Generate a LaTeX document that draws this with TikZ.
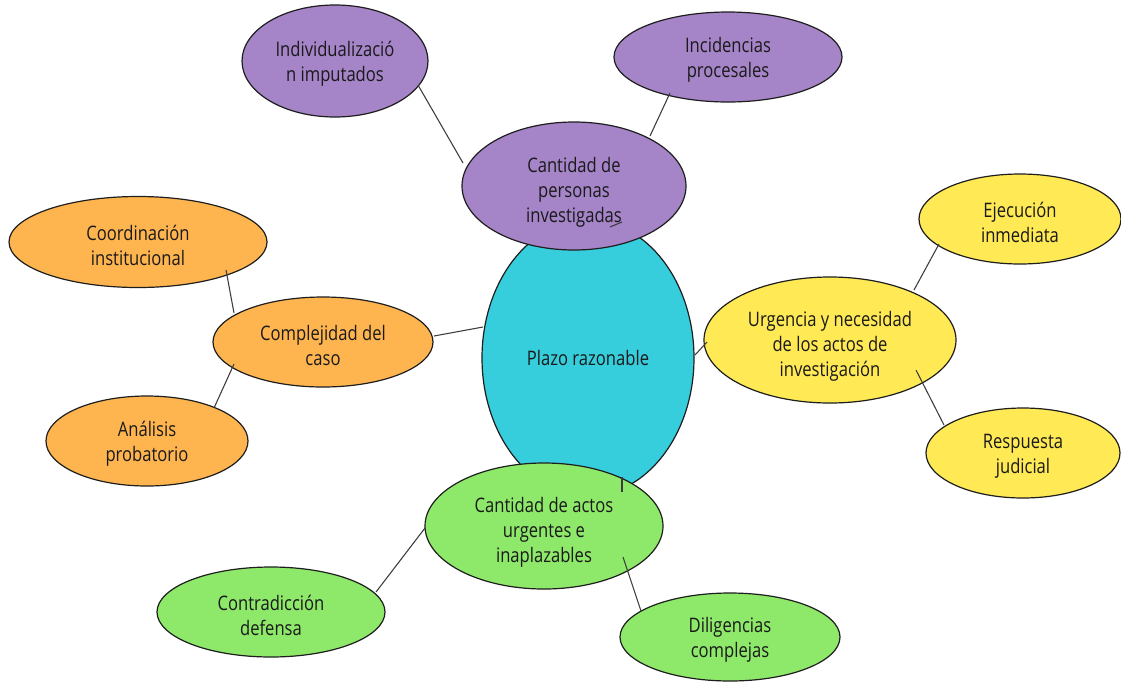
\documentclass[tikz,border=0pt]{standalone}
\usepackage{fontspec}
\setmainfont[FakeStretch=0.83]{Open Sans}
\usetikzlibrary{shapes.geometric}
\definecolor{cCyan}{HTML}{36CEDC}
\definecolor{cPurple}{HTML}{A584C8}
\definecolor{cOrange}{HTML}{FFB54F}
\definecolor{cYellow}{HTML}{FFE955}
\definecolor{cGreen}{HTML}{8EE86A}
\definecolor{lineC}{HTML}{1E1E1E}
\definecolor{linkC}{HTML}{3C3C3C}
\definecolor{txtC}{HTML}{1A1A1A}
\newcommand{\myupA}{\rule{0pt}{16pt}}
\newcommand{\myupB}{\rule{0pt}{20.5pt}}
\begin{document}
\begin{tikzpicture}[x=0.75pt,y=-0.75pt,
  bub/.style n args={3}{ellipse, draw=lineC, line width=0.9pt, fill=#1,
    minimum width=#2*0.75pt, minimum height=#3*0.75pt, inner sep=0pt,
    align=center, font=\fontsize{15}{18.75}\selectfont, text=txtC},
  link/.style={draw=linkC, line width=0.8pt}]
\useasboundingbox[fill=white] (0,0) rectangle (1121,683);

% central
\node[bub={cCyan}{212}{276}] (C) at (588,358) {Plazo razonable};
% purple group
\node[bub={cPurple}{224}{128}] (P) at (574,186) {\myupB Cantidad de\\personas\\investigadas};
\node[bub={cPurple}{186}{112}] (I1) at (335,61) {\myupA Individualizació\\n imputados};
\node[bub={cPurple}{228}{90}] (I2) at (728,57) {\myupA Incidencias\\procesales};
% orange group
\node[bub={cOrange}{220}{90}] (K) at (323,342) {\myupA Complejidad del\\caso};
\node[bub={cOrange}{258}{91}] (K1) at (138,242) {\myupA Coordinación\\institucional};
\node[bub={cOrange}{202}{90}] (K2) at (147,441) {\myupA Análisis\\probatorio};
% yellow group
\node[bub={cYellow}{252}{126}] (U) at (830,340) {\myupB Urgencia y necesidad\\de los actos de\\investigación};
\node[bub={cYellow}{202}{90}] (U1) at (1020,219) {\myupA Ejecución\\inmediata};
\node[bub={cYellow}{194}{90}] (U2) at (1023,453) {\myupA Respuesta\\judicial};
% green group
\node[bub={cGreen}{238}{126}] (G) at (544,526) {\myupB Cantidad de actos\\urgentes e\\inaplazables};
\node[bub={cGreen}{228}{90}] (G1) at (271,612) {\myupA Contradicción\\defensa};
\node[bub={cGreen}{220}{88}] (G2) at (730,637) {\myupA Diligencias\\complejas};

% connectors
\draw[link] ([shift={(83,24)}]I1.center) -- ([shift={(-111,-23)}]P.center);
\draw[link] ([shift={(-58,36)}]I2.center) -- ([shift={(76,-50)}]P.center);
\draw[link] ([shift={(88,28)}]K1.center) -- ([shift={(-89,-29)}]K.center);
\draw[link] ([shift={(67,-33)}]K2.center) -- ([shift={(-89,22)}]K.center);
\draw[link] ([shift={(111,-6)}]K.center) -- ([shift={(-105,-31)}]C.center);
\draw[link] ([shift={(-123,2)}]U.center) -- ([shift={(107,-3)}]C.center);
\draw[link] ([shift={(-81,25)}]U1.center) -- ([shift={(84,-50)}]U.center);
\draw[link] ([shift={(86,30)}]U.center) -- ([shift={(-79,-28)}]U2.center);
\draw[link] ([shift={(-119,2)}]G.center) -- ([shift={(105,-20)}]G1.center);
\draw[link] ([shift={(79,31)}]G.center) -- ([shift={(-89,-26)}]G2.center);
% short visible stubs
\coordinate (s1a) at ([shift={(36,41)}]P.center);
\coordinate (s1b) at ([shift={(48,36)}]P.center);
\coordinate (s2a) at ([shift={(78,-49)}]G.center);
\coordinate (s2b) at ([shift={(78,-34)}]G.center);
\draw[link] (s1a) -- (s1b);
\draw[link] (s2a) -- (s2b);
\end{tikzpicture}
\end{document}
